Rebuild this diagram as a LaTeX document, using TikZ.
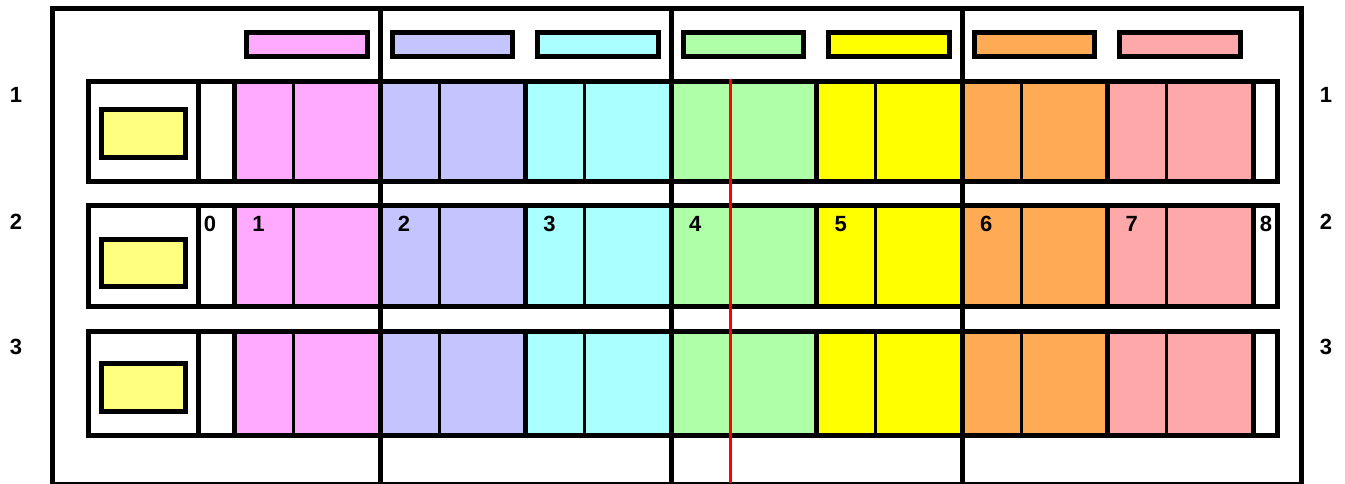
\documentclass[tikz,border=0pt]{standalone}
\usepackage{fontspec}
\setmainfont{Liberation Sans}
\definecolor{cpink}{HTML}{FFAAFF}
\definecolor{cblue}{HTML}{C4C4FF}
\definecolor{ccyan}{HTML}{AAFFFF}
\definecolor{cgreen}{HTML}{AEFFA8}
\definecolor{cyel}{HTML}{FFFF00}
\definecolor{corange}{HTML}{FFAA55}
\definecolor{csalmon}{HTML}{FFA8AA}
\definecolor{cbox}{HTML}{FFFF80}
\tikzset{
  thick line/.style={line width=5pt, black},
  thin divider/.style={line width=3pt, black},
  legendbox/.style={line width=5pt, draw=black},
  lbl/.style={font=\fontsize{22}{26}\selectfont\bfseries, inner sep=0pt, anchor=center},
  marker/.style={line width=3pt, red}
}
\begin{document}
\begin{tikzpicture}[x=1pt,y=-1pt]
\useasboundingbox (0,0) rectangle (1345,483);
\fill[white] (0,0) rectangle (1345,483);
\def\gw{145.54}
\def\colorlist{cpink,cblue,ccyan,cgreen,cyel,corange,csalmon}
% outer frame
\draw[thick line] (52.5,484.5) rectangle (1301.5,8.5);
% legend boxes
\foreach \c [count=\k from 0] in \colorlist {
  \pgfmathsetmacro{\xa}{234.5+\gw*\k+12}
  \pgfmathsetmacro{\xb}{234.5+\gw*(\k+1)-13}
  \draw[legendbox, fill=\c] (\xa,32.5) rectangle (\xb,56.5);
}
% rows
\foreach \T/\B/\yt/\yb in {81.5/181.5/109.5/157.5, 205.5/306.5/239.5/286.5, 331.5/435.5/363.5/411.5} {
  \fill[white] (88.5,\T) rectangle (1277.5,\B);
  \foreach \c [count=\k from 0] in \colorlist {
    \pgfmathsetmacro{\xa}{234.5+\gw*\k}
    \pgfmathsetmacro{\xb}{234.5+\gw*(\k+1)}
    \fill[\c] (\xa,\T) rectangle (\xb,\B);
  }
  \foreach \k in {0,...,6} {
    \pgfmathsetmacro{\xm}{234.5+\gw*\k+59}
    \draw[thin divider] (\xm,\T-2) -- (\xm,\B);
  }
  \foreach \k in {0,...,7} {
    \pgfmathsetmacro{\xg}{234.5+\gw*\k}
    \draw[thick line] (\xg,\T-2.5) -- (\xg,\B);
  }
  \draw[thick line] (198.5,\T-2.5) -- (198.5,\B);
  \draw[thick line] (88.5,\T) rectangle (1277.5,\B);
  \draw[legendbox, fill=cbox] (101.5,\yt) rectangle (185.5,\yb);
}
% full-height dividers
\foreach \k in {1,3,5} {
  \pgfmathsetmacro{\xg}{234.5+\gw*\k}
  \draw[thick line] (\xg,8.5) -- (\xg,483);
}
% red marker
\coordinate (redtop) at (730.1,79);
\coordinate (redbot) at (730.1,483);
\draw[marker] (redtop) -- (redbot);
% row labels
\node[lbl] (l1) at (16,95) {1};
\node[lbl] (l2) at (16,222) {2};
\node[lbl] (l3) at (16,347) {3};
\node[lbl] (r1) at (1326,95) {1};
\node[lbl] (r2) at (1326,222) {2};
\node[lbl] (r3) at (1326,347) {3};
% cell numbers
\node[lbl] (n0) at (210,224) {0};
\foreach \k [evaluate=\k as \n using int(\k+1)] in {0,...,6} {
  \pgfmathsetmacro{\xn}{234.5+\gw*\k+24}
  \node[lbl] (n\n) at (\xn,224) {\n};
}
\node[lbl] (n8) at (1266,224) {8};
\end{tikzpicture}
\end{document}
